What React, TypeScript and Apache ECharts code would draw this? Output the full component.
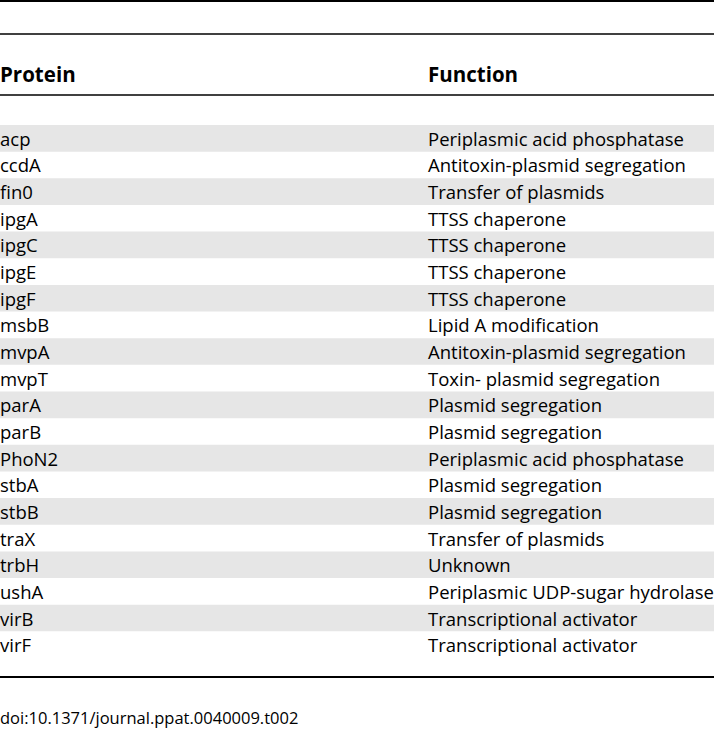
import React, { useEffect, useRef } from "react";
import * as echarts from "echarts";

const headers = ["Protein", "Function"];
const proteins = ["acp", "ccdA", "fin0", "ipgA", "ipgC", "ipgE", "ipgF", "msbB", "mvpA", "mvpT", "parA", "parB", "PhoN2", "stbA", "stbB", "traX", "trbH", "ushA", "virB", "virF"];
const functions = [
  "Periplasmic acid phosphatase",
  "Antitoxin-plasmid segregation",
  "Transfer of plasmids",
  "TTSS chaperone",
  "TTSS chaperone",
  "TTSS chaperone",
  "TTSS chaperone",
  "Lipid A modification",
  "Antitoxin-plasmid segregation",
  "Toxin- plasmid segregation",
  "Plasmid segregation",
  "Plasmid segregation",
  "Periplasmic acid phosphatase",
  "Plasmid segregation",
  "Plasmid segregation",
  "Transfer of plasmids",
  "Unknown",
  "Periplasmic UDP-sugar hydrolase",
  "Transcriptional activator",
  "Transcriptional activator",
];
const footnote = "doi:10.1371/journal.ppat.0040009.t002";

export default function App() {
  const ref = useRef<HTMLDivElement>(null);
  useEffect(() => {
    if (!ref.current) return;
    const chart = echarts.init(ref.current, null, { renderer: "svg" });
    const W = 714;
    const font = "'Open Sans', sans-serif";
    const rowTop = 125;
    const rowH = 26.65;
    const col2 = 428;
    const elements: any[] = [];
    proteins.forEach((p, i) => {
      const y = rowTop + i * rowH;
      if (i % 2 === 0) {
        elements.push({ type: "rect", shape: { x: 0, y, width: W, height: rowH }, style: { fill: "#e6e6e6" }, silent: true });
      }
      elements.push({ type: "text", x: 0, y: y + rowH / 2, style: { text: p, font: `18.5px ${font}`, fill: "#000", textVerticalAlign: "middle" } });
      elements.push({ type: "text", x: col2, y: y + rowH / 2, style: { text: functions[i], font: `18.5px ${font}`, fill: "#000", textVerticalAlign: "middle" } });
    });
    const hl = (y: number, w: number) => ({ type: "line", shape: { x1: 0, y1: y, x2: W, y2: y }, style: { stroke: "#000", lineWidth: w } });
    elements.push(hl(1, 2), hl(34, 1.6), hl(95, 1.6), hl(677, 2));
    elements.push({ type: "text", x: 0, y: 74, style: { text: headers[0], font: `bold 20.5px ${font}`, fill: "#000", textVerticalAlign: "middle" } });
    elements.push({ type: "text", x: col2, y: 74, style: { text: headers[1], font: `bold 20.5px ${font}`, fill: "#000", textVerticalAlign: "middle" } });
    elements.push({ type: "text", x: 0, y: 717, style: { text: footnote, font: `16.5px ${font}`, fill: "#000", textVerticalAlign: "middle" } });
    chart.setOption({ animation: false, backgroundColor: "#fff", graphic: { elements } });
    return () => chart.dispose();
  }, []);
  return <div ref={ref} style={{ position: "fixed", left: 0, top: 0, width: 714, height: 731 }} />;
}
